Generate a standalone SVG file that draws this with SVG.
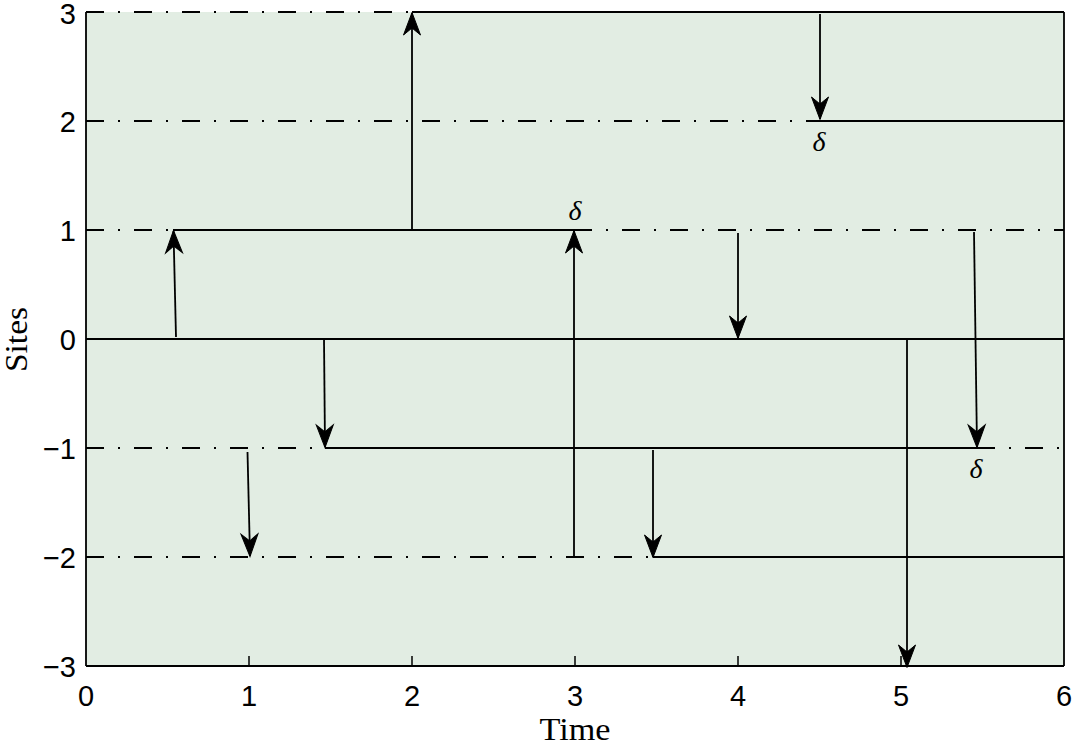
<svg xmlns="http://www.w3.org/2000/svg" width="1074" height="745" viewBox="0 0 1074 745">
<style>
.solid{stroke:#000;stroke-width:1.8;fill:none}
.dd{stroke:#000;stroke-width:1.8;fill:none;stroke-dasharray:18 14 2 14}
.arr{stroke:#000;stroke-width:1.8;fill:none;marker-end:url(#ah)}
.tick{font-family:'Liberation Sans',Arimo,Arial,sans-serif;font-size:29px;fill:#000}
.lab{font-family:'Liberation Serif',Tinos,'Times New Roman',serif;font-size:31px;fill:#000}
.dl{font-family:'Liberation Serif',Tinos,'Times New Roman',serif;font-style:italic;font-size:28px;fill:#000;text-anchor:middle}
</style>
<defs>
<marker id="ah" markerUnits="userSpaceOnUse" markerWidth="30" markerHeight="24" viewBox="-26 -12 28 24" refX="0" refY="0" orient="auto" overflow="visible">
<path d="M0.5,0 L-22,-8.5 L-15,0 L-22,8.5 Z" fill="#000" stroke="#000" stroke-width="1" stroke-linejoin="miter"/>
</marker>
</defs>
<rect x="86" y="12" width="978" height="654" fill="#E2EDE3"/>
<g id="axes">
<line class="solid" x1="86" y1="12" x2="86" y2="666" stroke-width="2"/>
<line class="solid" x1="86" y1="666" x2="1064" y2="666" stroke-width="2"/>
<line class="solid" x1="1064" y1="12" x2="1064" y2="666" stroke-width="2"/>
<g stroke="#000" stroke-width="1.5">
<line x1="249" y1="666" x2="249" y2="656"/>
<line x1="412" y1="666" x2="412" y2="656"/>
<line x1="575" y1="666" x2="575" y2="656"/>
<line x1="738" y1="666" x2="738" y2="656"/>
<line x1="901" y1="666" x2="901" y2="656"/>
<line x1="86" y1="557" x2="96" y2="557"/>
<line x1="86" y1="448" x2="96" y2="448"/>
<line x1="86" y1="230" x2="96" y2="230"/>
<line x1="86" y1="121" x2="96" y2="121"/>
</g>
<g class="tick" text-anchor="middle">
<text x="86" y="706">0</text>
<text x="249" y="706">1</text>
<text x="412" y="706">2</text>
<text x="575" y="706">3</text>
<text x="738" y="706">4</text>
<text x="901" y="706">5</text>
<text x="1064" y="706">6</text>
</g>
<g class="tick" text-anchor="end">
<text x="76" y="24">3</text>
<text x="76" y="132">2</text>
<text x="76" y="241">1</text>
<text x="76" y="350">0</text>
<text x="76" y="459">−1</text>
<text x="76" y="568">−2</text>
<text x="76" y="677">−3</text>
</g>
<text class="lab" x="575" y="740" text-anchor="middle" textLength="71" lengthAdjust="spacingAndGlyphs">Time</text>
<text class="lab" transform="translate(27,339.5) rotate(-90)" text-anchor="middle" textLength="65" lengthAdjust="spacingAndGlyphs">Sites</text>
</g>
<g id="sites">
<line class="dd" x1="86" y1="12" x2="412" y2="12"/>
<line class="solid" x1="412" y1="12" x2="1064" y2="12"/>
<line class="dd" x1="86" y1="121" x2="820" y2="121"/>
<line class="solid" x1="820" y1="121" x2="1064" y2="121"/>
<line class="dd" x1="86" y1="230" x2="173" y2="230"/>
<line class="solid" x1="173" y1="230" x2="574" y2="230"/>
<line class="dd" x1="574" y1="230" x2="1064" y2="230"/>
<line class="solid" x1="86" y1="339" x2="1064" y2="339"/>
<line class="dd" x1="86" y1="448" x2="325" y2="448"/>
<line class="solid" x1="325" y1="448" x2="977" y2="448"/>
<line class="dd" x1="977" y1="448" x2="1064" y2="448"/>
<line class="dd" x1="86" y1="557" x2="653" y2="557"/>
<line class="solid" x1="653" y1="557" x2="1064" y2="557"/>
</g>
<g id="connectors">
<line class="arr" x1="176" y1="337" x2="173.5" y2="231"/>
<line class="arr" x1="412" y1="229" x2="412" y2="13"/>
<line class="arr" x1="820" y1="14" x2="820" y2="119"/>
<line class="arr" x1="574" y1="557" x2="574" y2="231"/>
<line class="arr" x1="738" y1="233" x2="738" y2="338"/>
<line class="arr" x1="974" y1="232" x2="977" y2="447"/>
<line class="arr" x1="324" y1="339" x2="325" y2="447"/>
<line class="arr" x1="247.5" y1="452" x2="250" y2="556"/>
<line class="arr" x1="653" y1="450" x2="653" y2="557"/>
<line class="arr" x1="907" y1="339" x2="907" y2="667"/>
</g>
<g id="labels">
<text class="dl" x="819" y="151">δ</text>
<text class="dl" x="575" y="220">δ</text>
<text class="dl" x="976" y="478">δ</text>
</g>
</svg>
